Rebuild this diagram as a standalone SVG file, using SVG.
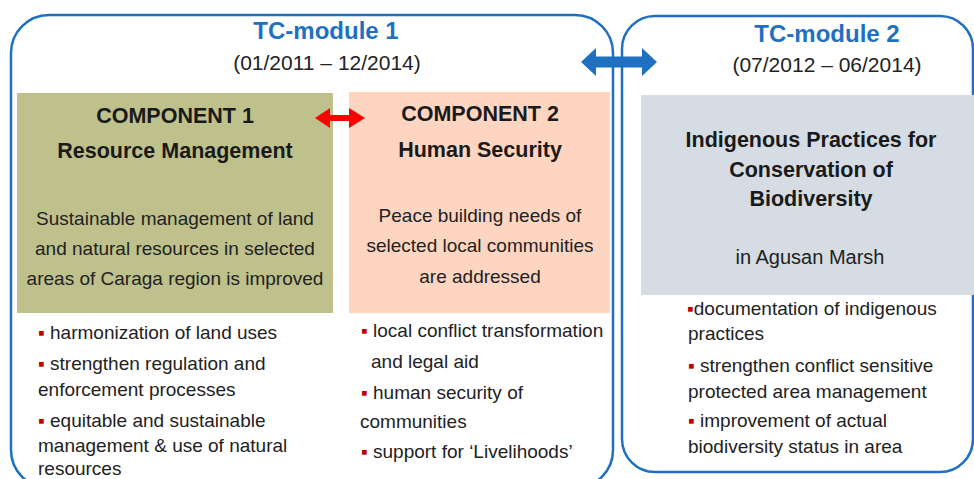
<svg xmlns="http://www.w3.org/2000/svg" width="974" height="479" viewBox="0 0 974 479">
<style>
.mod{fill:none;stroke:#1f70c1;stroke-width:2.5}
.tc{font-family:"Liberation Sans",Arial,sans-serif;font-weight:bold;font-size:24px;fill:#1f70c1;text-anchor:middle}
.date{font-family:"Liberation Sans",Arial,sans-serif;font-size:21px;fill:#222;text-anchor:middle}
.hd{font-family:"Liberation Sans",Arial,sans-serif;font-weight:bold;font-size:21.5px;fill:#1a1a1a;text-anchor:middle}
.bd{font-family:"Liberation Sans",Arial,sans-serif;font-size:19px;fill:#222;text-anchor:middle}
.li{font-family:"Liberation Sans",Arial,sans-serif;font-size:19px;fill:#222}
.b{fill:#c00000}
</style>
<rect width="974" height="479" fill="#ffffff"/>
<g id="module1">
<rect class="mod" x="11" y="15" width="602" height="473" rx="38" ry="38"/>
<text class="tc" x="326" y="39">TC-module 1</text>
<text class="date" x="327" y="70">(01/2011 – 12/2014)</text>
</g>
<g id="module2">
<rect class="mod" x="622" y="16" width="351" height="456" rx="33" ry="33"/>
<text class="tc" x="827" y="42">TC-module 2</text>
<text class="date" x="827" y="72">(07/2012 – 06/2014)</text>
</g>
<g id="component1">
<rect x="17" y="93" width="316" height="220" fill="#bec18c"/>
<text class="hd" x="175" y="123">COMPONENT 1</text>
<text class="hd" x="175" y="158">Resource Management</text>
<text class="bd" x="175" y="225">Sustainable management of land</text>
<text class="bd" x="175" y="255">and natural resources in selected</text>
<text class="bd" x="175" y="285">areas of Caraga region is improved</text>
<text class="li" x="38" y="339"><tspan class="b">▪</tspan> harmonization of land uses</text>
<text class="li" x="38" y="370"><tspan class="b">▪</tspan> strengthen regulation and</text>
<text class="li" x="38" y="396">enforcement processes</text>
<text class="li" x="38" y="427"><tspan class="b">▪</tspan> equitable and sustainable</text>
<text class="li" x="38" y="452">management &amp; use of natural</text>
<text class="li" x="38" y="475">resources</text>
</g>
<g id="component2">
<rect x="349" y="92" width="261" height="221" fill="#fdd5c0"/>
<text class="hd" x="480" y="121">COMPONENT 2</text>
<text class="hd" x="480" y="157">Human Security</text>
<text class="bd" x="480" y="222">Peace building needs of</text>
<text class="bd" x="480" y="252">selected local communities</text>
<text class="bd" x="480" y="283">are addressed</text>
<text class="li" x="361" y="337"><tspan class="b">▪</tspan> local conflict transformation</text>
<text class="li" x="371" y="368">and legal aid</text>
<text class="li" x="361" y="399"><tspan class="b">▪</tspan> human security of</text>
<text class="li" x="360" y="428">communities</text>
<text class="li" x="361" y="458"><tspan class="b">▪</tspan> support for ‘Livelihoods’</text>
</g>
<g id="indigenous">
<rect x="641" y="95" width="333" height="200" fill="#d5dce3"/>
<text class="hd" x="811" y="147">Indigenous Practices for</text>
<text class="hd" x="811" y="177">Conservation of</text>
<text class="hd" x="811" y="206">Biodiversity</text>
<text class="bd" x="810" y="264" style="font-size:20px">in Agusan Marsh</text>
<text class="li" x="687" y="315"><tspan class="b">▪</tspan>documentation of indigenous</text>
<text class="li" x="688" y="340">practices</text>
<text class="li" x="688" y="372"><tspan class="b">▪</tspan> strengthen conflict sensitive</text>
<text class="li" x="688" y="398">protected area management</text>
<text class="li" x="688" y="427"><tspan class="b">▪</tspan> improvement of actual</text>
<text class="li" x="688" y="453">biodiversity status in area</text>
</g>
<g id="connectors">
<polygon fill="#1f70c1" points="581,62 596,48 596,56.5 642,56.5 642,48 657,62 642,76 642,67.5 596,67.5 596,76"/>
<polygon fill="#ff0000" points="315,118 330,108 330,115 349,115 349,108 365,118 349,128 349,121 330,121 330,128"/>
</g>
</svg>
